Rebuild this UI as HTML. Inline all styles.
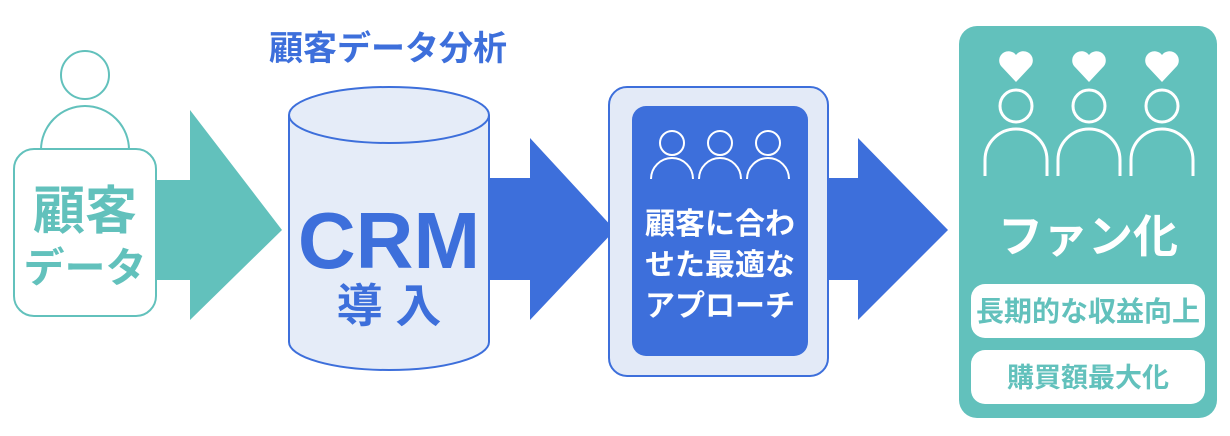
<!DOCTYPE html>
<html><head><meta charset="utf-8"><style>
html,body{margin:0;padding:0;background:#fff;}
svg{display:block}
text{font-family:"Liberation Sans","Noto Sans CJK JP",sans-serif;font-weight:bold;}
</style></head><body>
<svg width="1230" height="436" viewBox="0 0 1230 436" xmlns="http://www.w3.org/2000/svg">
<circle cx="85" cy="75" r="24" fill="#fff" stroke="#62c1bc" stroke-width="2"/>
<path d="M41 150 A44 44 0 0 1 129 150" fill="#fff" stroke="#62c1bc" stroke-width="2"/>
<polygon points="150,180 190,180 190,110 282,230 190,320 190,280 150,280" fill="#62c1bc"/>
<rect x="14" y="149" width="142" height="167" rx="20" fill="#fff" stroke="#62c1bc" stroke-width="2"/>
<text x="85" y="229" text-anchor="middle" font-size="52" fill="#62c1bc">顧客</text>
<text x="85" y="282" text-anchor="middle" font-size="41" fill="#62c1bc">データ</text>
<polygon points="480,178 530,178 530,138 615,230 530,320 530,280 480,280" fill="#3d6fdb"/>
<text x="388" y="60" text-anchor="middle" font-size="34" fill="#3d6fdb">顧客データ分析</text>
<path d="M289 115 L289 342 A100 28 0 0 0 489 342 L489 115" fill="#e5ecf8" stroke="#3d6fdb" stroke-width="2"/>
<ellipse cx="389" cy="115" rx="100" ry="28" fill="#e5ecf8" stroke="#3d6fdb" stroke-width="2"/>
<text x="389" y="268" text-anchor="middle" font-size="80" fill="#3d6fdb">CRM</text>
<text x="389" y="322" text-anchor="middle" font-size="46" fill="#3d6fdb">導 入</text>
<polygon points="820,178 858,178 858,138 948,230 858,320 858,280 820,280" fill="#3d6fdb"/>
<rect x="609" y="87" width="219" height="289" rx="18" fill="#e3eaf7" stroke="#3d6fdb" stroke-width="2"/>
<rect x="632" y="106" width="176" height="250" rx="14" fill="#3d6fdb"/>
<g fill="none" stroke="#fff" stroke-width="2">
<circle cx="672" cy="143" r="12"/><path d="M651 179 A21 21 0 0 1 693 179"/>
<circle cx="720" cy="143" r="12"/><path d="M699 179 A21 21 0 0 1 741 179"/>
<circle cx="768" cy="143" r="12"/><path d="M747 179 A21 21 0 0 1 789 179"/>
</g>
<text x="720" y="234" text-anchor="middle" font-size="30" fill="#fff">顧客に合わ</text>
<text x="720" y="275" text-anchor="middle" font-size="30" fill="#fff">せた最適な</text>
<text x="720" y="316" text-anchor="middle" font-size="30" fill="#fff">アプローチ</text>
<rect x="959" y="26" width="258" height="392" rx="18" fill="#62c1bc"/>
<g fill="#fff">
<path d="M1016 82 L1001 66 A9 9 0 0 1 1016 55 A9 9 0 0 1 1031 66 Z"/>
<path d="M1089 82 L1074 66 A9 9 0 0 1 1089 55 A9 9 0 0 1 1104 66 Z"/>
<path d="M1162 82 L1147 66 A9 9 0 0 1 1162 55 A9 9 0 0 1 1177 66 Z"/>
</g>
<g fill="none" stroke="#fff" stroke-width="3">
<circle cx="1016" cy="106" r="16"/><path d="M985 176 L985 160 A31 31 0 0 1 1047 160 L1047 176"/>
<circle cx="1089" cy="106" r="16"/><path d="M1058 176 L1058 160 A31 31 0 0 1 1120 160 L1120 176"/>
<circle cx="1162" cy="106" r="16"/><path d="M1131 176 L1131 160 A31 31 0 0 1 1193 160 L1193 176"/>
</g>
<text x="1088" y="252" text-anchor="middle" font-size="45" fill="#fff">ファン化</text>
<rect x="971" y="284" width="234" height="54" rx="14" fill="#fff"/>
<text x="1088" y="321" text-anchor="middle" font-size="28" fill="#62c1bc">長期的な収益向上</text>
<rect x="971" y="350" width="234" height="54" rx="14" fill="#fff"/>
<text x="1088" y="387" text-anchor="middle" font-size="27" fill="#62c1bc">購買額最大化</text>
</svg>
</body></html>
